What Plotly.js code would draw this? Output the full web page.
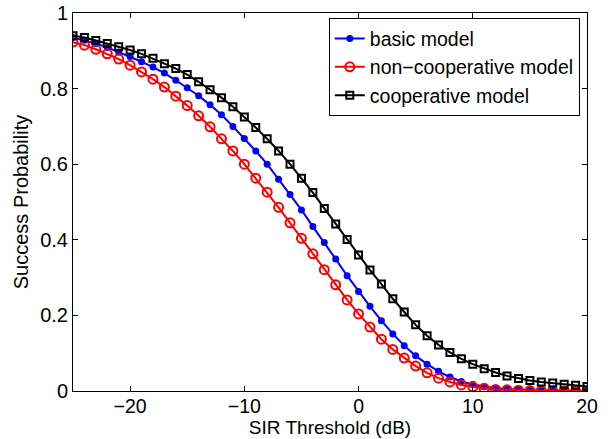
<!DOCTYPE html>
<html>
<head>
<meta charset="utf-8">
<script src="https://cdn.plot.ly/plotly-3.0.1.min.js"></script>
<style>html,body{margin:0;padding:0;background:#fff;}#chart{width:613px;height:439px;}</style>
</head>
<body>
<div id="chart"></div>
<script>
const sirDb = [-25,-24,-23,-22,-21,-20,-19,-18,-17,-16,-15,-14,-13,-12,-11,-10,-9,-8,-7,-6,-5,-4,-3,-2,-1,0,1,2,3,4,5,6,7,8,9,10,11,12,13,14,15,16,17,18,19,20];

const basicModel = [0.935,0.928,0.919,0.909,0.897,0.885,0.871,0.857,0.841,0.822,0.802,0.781,0.757,0.731,0.700,0.668,0.635,0.600,0.560,0.520,0.479,0.435,0.393,0.349,0.305,0.263,0.224,0.186,0.151,0.120,0.093,0.071,0.052,0.037,0.025,0.017,0.011,0.007,0.005,0.003,0.002,0.001,0.001,0.0005,0.0003,0.0002];

const nonCoopModel = [0.923,0.915,0.904,0.892,0.878,0.862,0.844,0.825,0.804,0.780,0.755,0.728,0.699,0.667,0.635,0.600,0.563,0.526,0.486,0.445,0.404,0.363,0.321,0.281,0.241,0.204,0.169,0.137,0.110,0.087,0.066,0.048,0.034,0.024,0.016,0.011,0.007,0.004,0.003,0.002,0.001,0.0007,0.0004,0.0003,0.0002,0.0001];

const coopModel = [0.940,0.935,0.927,0.919,0.911,0.902,0.892,0.880,0.866,0.853,0.837,0.818,0.797,0.776,0.752,0.725,0.697,0.667,0.635,0.600,0.563,0.525,0.483,0.442,0.401,0.360,0.320,0.283,0.244,0.209,0.175,0.146,0.122,0.102,0.085,0.071,0.059,0.049,0.040,0.033,0.028,0.024,0.021,0.018,0.015,0.012];

const seriesNames = ['basic model', 'non\u2212cooperative model', 'cooperative model'];
const xTicks = [-20, -10, 0, 10, 20];
const yTicks = [0, 0.2, 0.4, 0.6, 0.8, 1];

const FONT = 'Liberation Sans, Arial, Helvetica, sans-serif';

const traces = [
  {x: sirDb, y: basicModel, name: seriesNames[0], mode: 'lines+markers',
   line: {color: '#0000ff', width: 2},
   marker: {symbol: 'circle', size: 7, color: '#0000ff'}},
  {x: sirDb, y: nonCoopModel, name: seriesNames[1], mode: 'lines+markers',
   line: {color: '#ff0000', width: 2},
   marker: {symbol: 'circle-open', size: 9, color: '#ff0000', line: {width: 2, color: '#ff0000'}}},
  {x: sirDb, y: coopModel, name: seriesNames[2], mode: 'lines+markers',
   line: {color: '#000000', width: 2},
   marker: {symbol: 'square-open', size: 7, color: '#000000', line: {width: 2, color: '#000000'}}}
];

const axisCommon = {
  showline: true, linecolor: '#000', linewidth: 1, mirror: 'ticks',
  ticks: 'inside', ticklen: 5, tickcolor: '#000', tickwidth: 1,
  showgrid: false, zeroline: false,
  tickfont: {family: FONT, size: 20, color: '#000'}
};

const layout = {
  width: 613, height: 439,
  margin: {l: 73, r: 26, t: 13, b: 48},
  paper_bgcolor: '#fff', plot_bgcolor: '#fff',
  font: {family: FONT, size: 20, color: '#000'},
  showlegend: true,
  legend: {
    x: 0.986, xanchor: 'right', y: 0.986, yanchor: 'top',
    bgcolor: '#fff', bordercolor: '#000', borderwidth: 1,
    font: {family: FONT, size: 19.5, color: '#000'},
    tracegroupgap: 0
  },
  xaxis: Object.assign({}, axisCommon, {
    range: [-25, 20], tickvals: xTicks,
    ticklabelstandoff: -2,
    tickfont: {family: FONT, size: 19.5, color: '#000'},
    title: {text: 'SIR Threshold (dB)', font: {family: FONT, size: 19, color: '#000'}, standoff: 4}
  }),
  yaxis: Object.assign({}, axisCommon, {
    range: [0, 1], tickvals: yTicks,
    title: {text: 'Success Probability', font: {family: FONT, size: 20, color: '#000'}, standoff: 6}
  })
};

Plotly.newPlot('chart', traces, layout, {staticPlot: true, displayModeBar: false});
</script>
</body>
</html>
